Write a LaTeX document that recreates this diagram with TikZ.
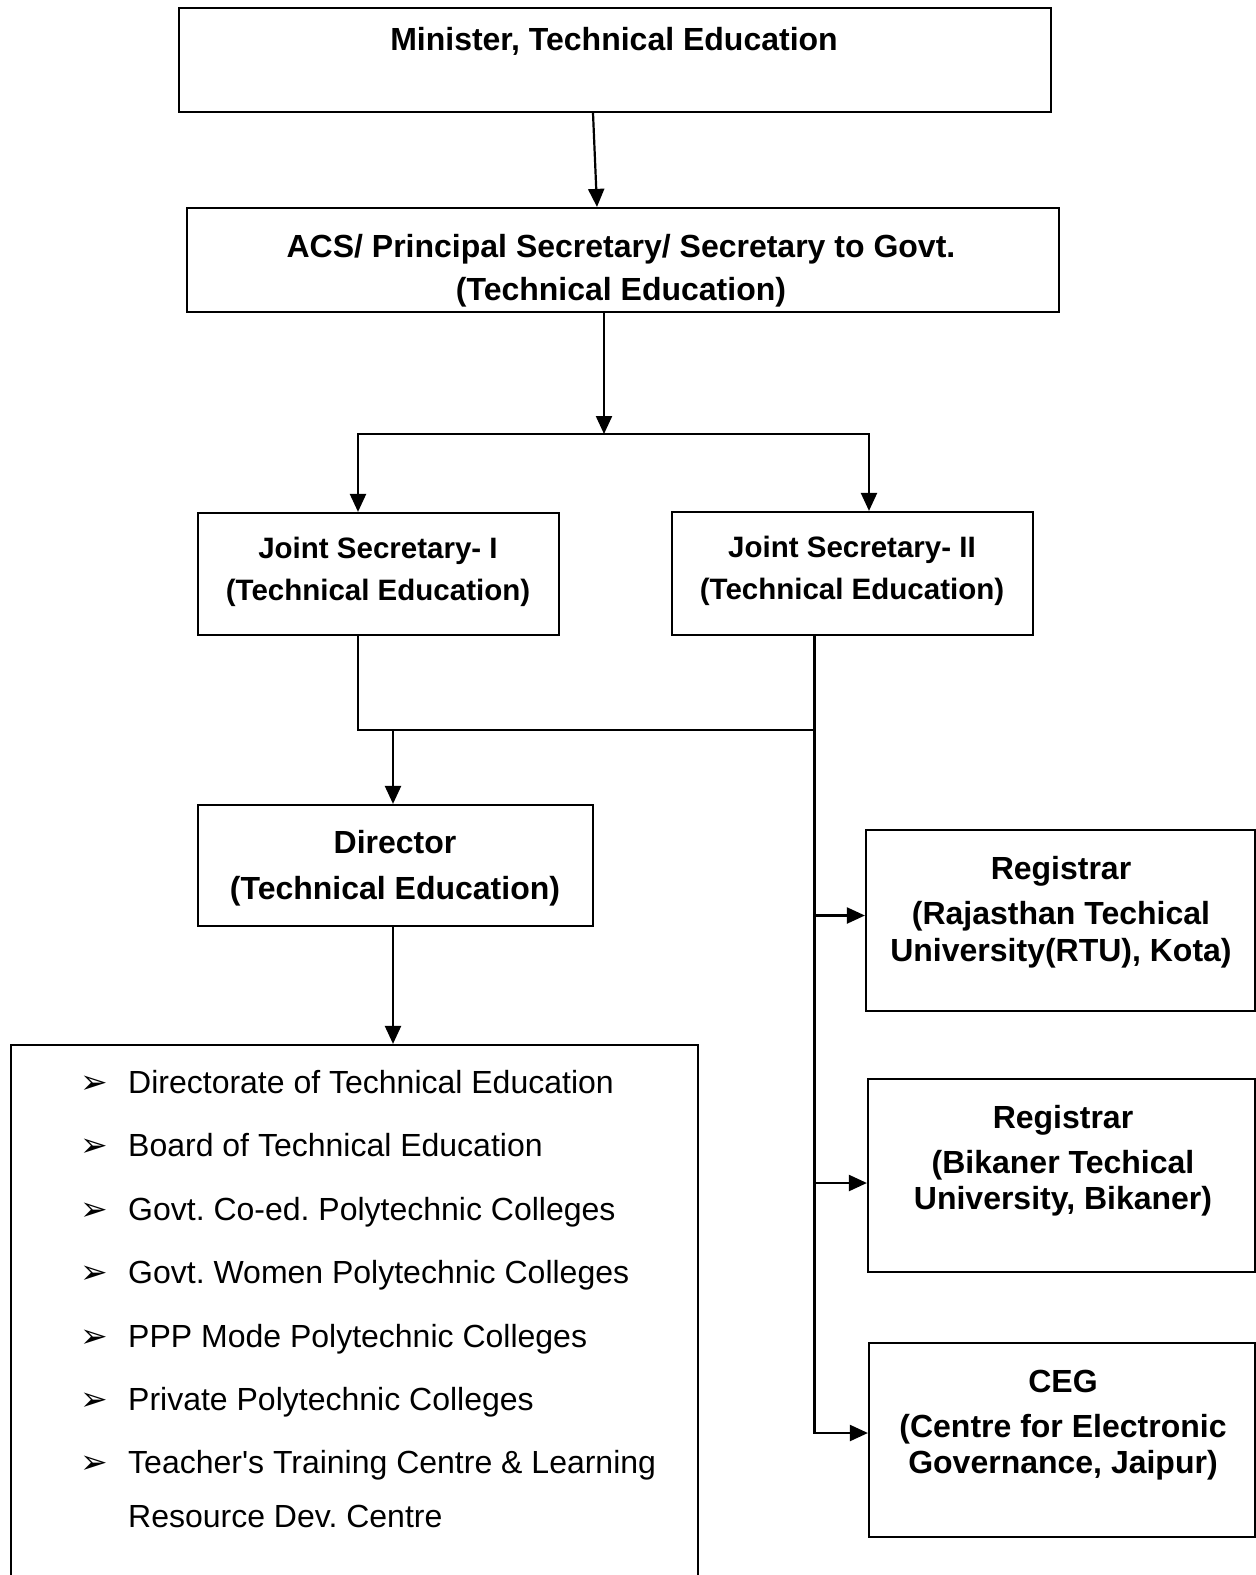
\documentclass[tikz,border=0pt]{standalone}
\usepackage{fontspec}
\setmainfont{Liberation Sans}
\newfontfamily\plainfont{Liberation Sans}
\newfontfamily\dingfont{DejaVu Sans}
\usetikzlibrary{arrows.meta}
\frenchspacing

\begin{document}
\begin{tikzpicture}[x=1pt,y=-1pt,
  box/.style={draw,line width=2.2pt,inner sep=0pt},
  headtxt/.style={inner sep=0pt,anchor=north,align=center,font=\fontsize{32}{#1}\selectfont\bfseries},
  listtxt/.style={inner sep=0pt,anchor=base west,font=\fontsize{32}{38}\selectfont\plainfont},
  pointer/.style={inner sep=0pt,anchor=base west,font=\fontsize{33}{38}\selectfont\dingfont},
  arr/.style={line width=2.2pt,-{Triangle[length=18pt,width=16pt]}},
  ln/.style={line width=2.2pt}]
  \useasboundingbox (0,0) rectangle (1256,1575);
  \fill[white] (0,0) rectangle (1256,1575);

  %boxes
  \node[box,minimum width=872pt,minimum height=104pt] (min) at (615,60) {};
  \node[box,minimum width=872pt,minimum height=104pt] (acs) at (623,260) {};
  \node[box,minimum width=361pt,minimum height=122pt] (js1) at (378.5,574) {};
  \node[box,minimum width=361pt,minimum height=123pt] (js2) at (852.5,573.5) {};
  \node[box,minimum width=395pt,minimum height=121pt] (dir) at (395.5,865.5) {};
  \node[box,minimum width=687pt,minimum height=555pt] (lst) at (354.5,1322.5) {};
  \node[box,minimum width=389pt,minimum height=181pt] (rtu) at (1060.5,920.5) {};
  \node[box,minimum width=387pt,minimum height=193pt] (btu) at (1061.5,1175.5) {};
  \node[box,minimum width=386pt,minimum height=194pt] (ceg) at (1062,1440) {};

  %box texts
  \node[headtxt=38] (minT) at (614,27.5) {Minister, Technical Education};
  \node[headtxt=43] (acsT) at (621,234.5) {ACS/ Principal Secretary/ Secretary to Govt.\\(Technical Education)};
  \node[headtxt=42,font=\fontsize{29.5}{42}\selectfont\bfseries] (js1T) at (378,537) {Joint Secretary- I\\(Technical Education)};
  \node[headtxt=42,font=\fontsize{29.5}{42}\selectfont\bfseries] (js2T) at (852,536) {Joint Secretary- II\\(Technical Education)};
  \node[headtxt=46] (dirT) at (395,830.5) {Director\\(Technical Education)};
  \node[headtxt=37] (rtuT) at (1061,856.5) {Registrar\\[8pt](Rajasthan Techical\\University(RTU), Kota)};
  \node[headtxt=36] (btuT) at (1063,1105.5) {Registrar\\[8.5pt](Bikaner Techical\\University, Bikaner)};
  \node[headtxt=36] (cegT) at (1063,1370) {CEG\\[9pt](Centre for Electronic\\Governance, Jaipur)};

  %list of institutions
  \foreach \txt [count=\i from 0] in {Directorate of Technical Education,
      Board of Technical Education, Govt. Co-ed. Polytechnic Colleges,
      Govt. Women Polytechnic Colleges, PPP Mode Polytechnic Colleges,
      Private Polytechnic Colleges, {Teacher's Training Centre \& Learning}} {
    \node[pointer] (pt\i) at (80,{1093.5+63.4*\i}) {➢};
    \node[listtxt] (item\i) at (128,{1093.5+63.4*\i}) {\txt};
  }
  \node[listtxt] (item7) at (128,1527.5) {Resource Dev. Centre};

  %minister to acs
  \draw[arr] ([xshift=-22pt]min.south) -- ([xshift=-26pt]acs.north);

  %acs to joint secretaries
  \coordinate (fork) at (604,434);
  \draw[arr] (acs.south -| fork) -- (fork);
  \draw[arr] (fork) -| ([xshift=-20.5pt]js1.north);
  \draw[arr] (fork) -| ([xshift=16.5pt]js2.north);

  %joint secretaries to director
  \coordinate (trunk) at ([xshift=-38pt]js2.south);
  \coordinate (dirin) at (393,730);
  \draw[ln] ([xshift=-20.5pt]js1.south) |- (trunk |- dirin);
  \draw[arr] (dirin) -- (dirin |- dir.north);
  \draw[arr] ([xshift=-2.5pt]dir.south) -- ([xshift=-2.5pt]dir.south |- lst.north);

  %trunk to universities and ceg
  \draw[ln] (trunk) -- (trunk |- dirin);
  \draw[arr] (trunk |- dirin) |- ([yshift=7pt]ceg.west);
  \draw[arr] ([yshift=5pt]rtu.west -| trunk) -- ([yshift=5pt]rtu.west);
  \draw[arr] ([yshift=-7.5pt]btu.west -| trunk) -- ([yshift=-7.5pt]btu.west);
\end{tikzpicture}
\end{document}
